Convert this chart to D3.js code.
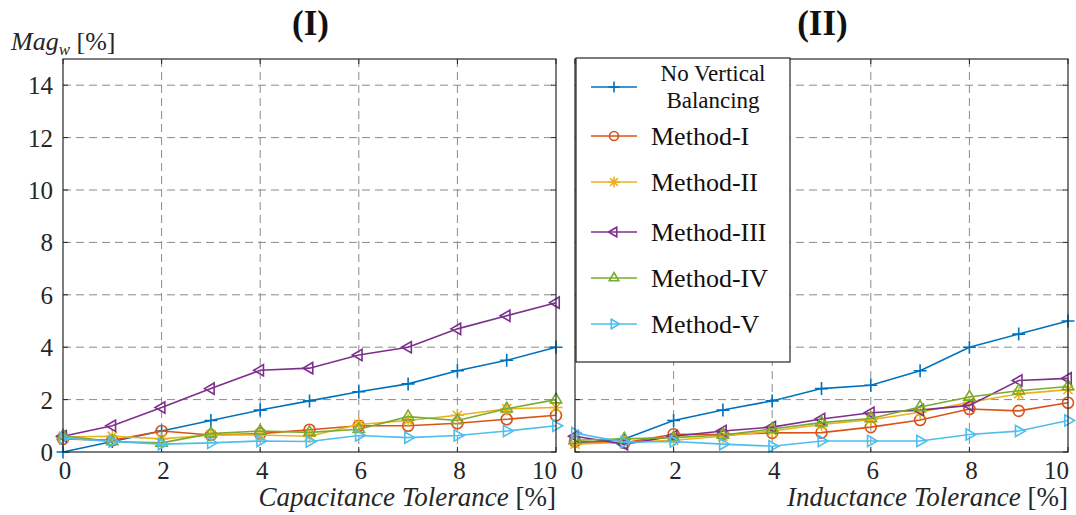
<!DOCTYPE html>
<html>
<head>
<meta charset="UTF-8">
<script src="https://cdn.jsdelivr.net/npm/d3@7"></script>
<style>
  body { margin: 0; background: #fff; }
  svg, svg text { font-family: "Liberation Serif", "DejaVu Serif", serif; }
  .grid-line { stroke: #8a8a8a; stroke-dasharray: 8,5; stroke-width: 1; }
  .tick-label { font-size: 25px; fill: #262626; }
</style>
</head>
<body>
<div id="root"></div>
<script>
// tolerance steps (x axis)
const tol = [0, 1, 2, 3, 4, 5, 6, 7, 8, 9, 10]
const xTicks = [0, 2, 4, 6, 8, 10]
const yTicks = [0, 2, 4, 6, 8, 10, 12, 14]

const seriesNames = ["No Vertical Balancing", "Method-I", "Method-II", "Method-III", "Method-IV", "Method-V"]

// panel (I): capacitance tolerance
const noVB_C  = [0.0, 0.4, 0.8, 1.2, 1.6, 1.95, 2.3, 2.6, 3.1, 3.5, 4.0]
const m1_C    = [0.5, 0.45, 0.8, 0.65, 0.7, 0.85, 1.0, 1.0, 1.1, 1.25, 1.4]
const m2_C    = [0.57, 0.6, 0.5, 0.65, 0.65, 0.6, 1.05, 1.2, 1.4, 1.65, 1.7]
const m3_C    = [0.6, 1.0, 1.7, 2.42, 3.12, 3.2, 3.7, 4.0, 4.7, 5.2, 5.7]
const m4_C    = [0.62, 0.4, 0.35, 0.7, 0.8, 0.75, 0.87, 1.35, 1.2, 1.65, 2.0]
const m5_C    = [0.53, 0.4, 0.3, 0.35, 0.42, 0.4, 0.63, 0.55, 0.63, 0.8, 1.0]

// panel (II): inductance tolerance
const noVB_L  = [0.32, 0.5, 1.2, 1.6, 1.95, 2.42, 2.55, 3.1, 4.0, 4.5, 5.0]
const m1_L    = [0.4, 0.35, 0.68, 0.67, 0.73, 0.74, 0.95, 1.22, 1.64, 1.57, 1.88]
const m2_L    = [0.3, 0.37, 0.45, 0.6, 0.8, 1.05, 1.23, 1.52, 1.9, 2.22, 2.38]
const m3_L    = [0.6, 0.3, 0.6, 0.8, 0.95, 1.26, 1.5, 1.6, 1.78, 2.73, 2.81]
const m4_L    = [0.45, 0.5, 0.55, 0.65, 0.88, 1.12, 1.28, 1.72, 2.1, 2.34, 2.5]
const m5_L    = [0.72, 0.37, 0.4, 0.3, 0.22, 0.42, 0.42, 0.42, 0.67, 0.8, 1.2]

const colors  = ["#0072BD", "#D95319", "#EDB120", "#7E2F8E", "#77AC30", "#4DBEEE"]
const markers = ["plus", "circle", "star", "triLeft", "triUp", "triRight"]

const width = 1076, height = 515
const svg = d3.select("#root").append("svg").attr("width", width).attr("height", height)
    .attr("font-family", "Liberation Serif, serif")

function markerPath(type, r) {
    if (type == "plus") return `M${-r},0H${r}M0,${-r}V${r}`
    if (type == "circle") return d3.symbol().type(d3.symbolCircle).size(Math.PI * r * r)()
    if (type == "star") {
        let p = ""
        for (let i = 0; i < 4; i++) {
            let a = i * Math.PI / 4
            p += `M${-r * Math.cos(a)},${-r * Math.sin(a)}L${r * Math.cos(a)},${r * Math.sin(a)}`
        }
        return p
    }
    if (type == "triUp") return `M0,${-r}L${r * 0.87},${r * 0.5}L${-r * 0.87},${r * 0.5}Z`
    if (type == "triLeft") return `M${-r},0L${r * 0.5},${-r * 0.87}L${r * 0.5},${r * 0.87}Z`
    if (type == "triRight") return `M${r},0L${-r * 0.5},${-r * 0.87}L${-r * 0.5},${r * 0.87}Z`
}

function renderPanel(left, right, data, title, xlabel, showY) {
    const top = 59, bottom = 452
    const x = d3.scaleLinear().domain([0, 10]).range([left, right])
    const y = d3.scaleLinear().domain([0, 15]).range([bottom, top])
    const g = svg.append("g")

    // dashed grid
    g.selectAll("line.vgrid").data(xTicks.filter(d => d > 0 && d < 10)).enter().append("line")
        .attr("class", "grid-line")
        .attr("x1", d => x(d)).attr("x2", d => x(d)).attr("y1", top).attr("y2", bottom)
    g.selectAll("line.hgrid").data(yTicks.filter(d => d > 0)).enter().append("line")
        .attr("class", "grid-line")
        .attr("x1", left).attr("x2", right).attr("y1", d => y(d)).attr("y2", d => y(d))

    // inward ticks on all sides
    xTicks.forEach(t => {
        g.append("line").attr("x1", x(t)).attr("x2", x(t)).attr("y1", bottom).attr("y2", bottom - 5).attr("stroke", "#262626")
        g.append("line").attr("x1", x(t)).attr("x2", x(t)).attr("y1", top).attr("y2", top + 5).attr("stroke", "#262626")
    })
    yTicks.forEach(t => {
        g.append("line").attr("x1", left).attr("x2", left + 5).attr("y1", y(t)).attr("y2", y(t)).attr("stroke", "#262626")
        g.append("line").attr("x1", right).attr("x2", right - 5).attr("y1", y(t)).attr("y2", y(t)).attr("stroke", "#262626")
    })

    // series
    const line = d3.line().x((d, i) => x(tol[i])).y(d => y(d))
    data.forEach((vals, k) => {
        g.append("path").datum(vals).attr("d", line)
            .attr("fill", "none").attr("stroke", colors[k]).attr("stroke-width", 1.6)
        g.selectAll("path.m" + k).data(vals).enter().append("path")
            .attr("class", "m" + k)
            .attr("transform", (d, i) => `translate(${x(tol[i])},${y(d)})`)
            .attr("d", markerPath(markers[k], markers[k] == "circle" ? 5.5 : 6.5))
            .attr("fill", "none").attr("stroke", colors[k]).attr("stroke-width", 1.6)
    })

    // frame
    g.append("rect").attr("x", left).attr("y", top).attr("width", right - left).attr("height", bottom - top)
        .attr("fill", "none").attr("stroke", "#262626").attr("stroke-width", 1.2)

    // tick labels (last one kept inside the axis end)
    g.selectAll("text.xt").data(xTicks).enter().append("text")
        .attr("class", "tick-label").attr("x", d => d == 10 ? x(d) + 1 : x(d) + 2).attr("y", 479)
        .attr("text-anchor", d => d == 10 ? "end" : "middle").text(d => d)
    if (showY) {
        g.selectAll("text.yt").data(yTicks).enter().append("text")
            .attr("class", "tick-label").attr("x", left - 10).attr("y", d => y(d) + 9)
            .attr("text-anchor", "end").text(d => d)
    }

    // title
    g.append("text").attr("x", (left + right) / 2 + 1).attr("y", 35).attr("text-anchor", "middle")
        .attr("font-size", 35).attr("font-weight", "bold").attr("fill", "#111").text(title)

    // x label
    const xl = g.append("text").attr("x", right).attr("y", 506).attr("text-anchor", "end")
        .attr("font-size", 27).attr("fill", "#262626")
    xl.append("tspan").attr("font-style", "italic").text(xlabel)
    xl.append("tspan").text(" [%]")
}

renderPanel(63, 556, [noVB_C, m1_C, m2_C, m3_C, m4_C, m5_C], "(I)", "Capacitance Tolerance", true)
renderPanel(575, 1068, [noVB_L, m1_L, m2_L, m3_L, m4_L, m5_L], "(II)", "Inductance Tolerance", false)

// y label
const yl = svg.append("text").attr("x", 11).attr("y", 50).attr("font-size", 26).attr("fill", "#262626")
yl.append("tspan").attr("font-style", "italic").text("Mag")
yl.append("tspan").attr("font-style", "italic").attr("font-size", 17).attr("dy", 5).text("w")
yl.append("tspan").attr("dy", -5).text(" [%]")

// legend
const lg = svg.append("g")
lg.append("rect").attr("x", 576).attr("y", 58).attr("width", 214).attr("height", 304)
    .attr("fill", "#fff").attr("stroke", "#262626").attr("stroke-width", 1.2)
const rowY = [87, 136, 182, 232, 278, 324]
seriesNames.forEach((name, k) => {
    lg.append("line").attr("x1", 591).attr("x2", 637).attr("y1", rowY[k]).attr("y2", rowY[k])
        .attr("stroke", colors[k]).attr("stroke-width", 1.6)
    lg.append("path").attr("transform", `translate(614,${rowY[k]})`)
        .attr("d", markerPath(markers[k], markers[k] == "circle" ? 4.5 : 5.5))
        .attr("fill", "none").attr("stroke", colors[k]).attr("stroke-width", 1.6)
    if (k == 0) {
        // two-line entry as one text block
        const t = lg.append("text").attr("text-anchor", "middle").attr("font-size", 23).attr("fill", "#111")
        t.append("tspan").attr("x", 713).attr("y", 81).text("No Vertical")
        t.append("tspan").attr("x", 713).attr("y", 108).text("Balancing")
    } else {
        lg.append("text").attr("x", 651).attr("y", rowY[k] + 9)
            .attr("font-size", 26).attr("fill", "#111").text(name)
    }
})
</script>
</body>
</html>
